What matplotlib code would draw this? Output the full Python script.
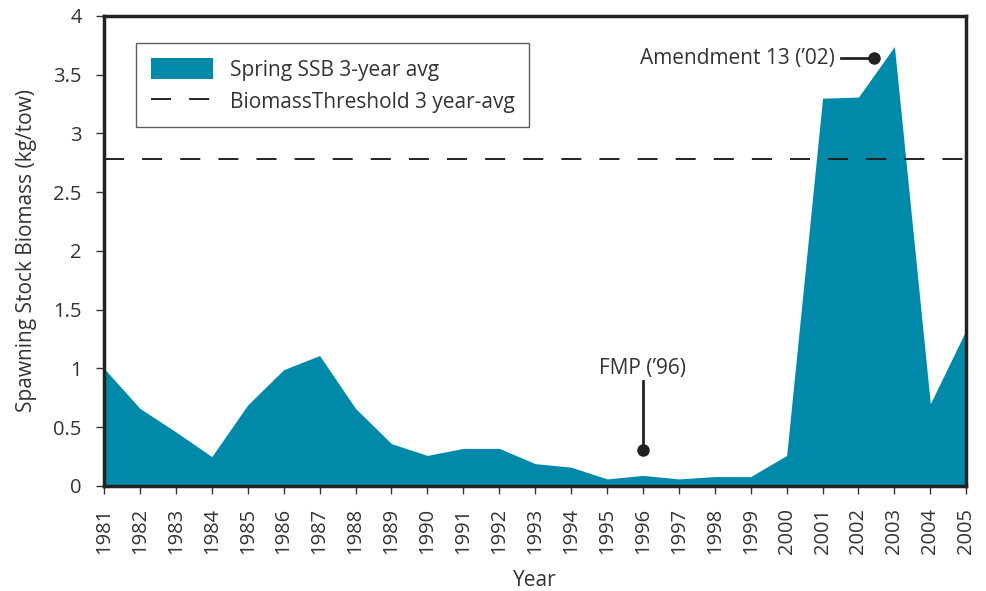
import numpy as np
import matplotlib.pyplot as plt
from matplotlib.patches import Patch
from matplotlib.lines import Line2D

years = list(range(1981, 2006))
ssb = [1.00, 0.66, 0.46, 0.25, 0.69, 0.99, 1.11, 0.66, 0.36, 0.26,
       0.32, 0.32, 0.19, 0.16, 0.06, 0.09, 0.06, 0.08, 0.08, 0.26,
       3.30, 3.31, 3.74, 0.70, 1.33]
threshold = 2.78
yticks = [0, 0.5, 1, 1.5, 2, 2.5, 3, 3.5, 4]
ytick_labels = ['0', '0.5', '1', '1.5', '2', '2.5', '3', '3.5', '4']

plt.rcParams['font.family'] = ['Open Sans', 'DejaVu Sans']
teal = '#0089a8'
txt = '#333333'
fs = 15
dash = (10.3, 9.3)

fig = plt.figure(figsize=(9.86, 5.91), dpi=100)
ax = fig.add_axes([0.1055, 0.1777, 0.8745, 0.7953])

ax.fill_between(years, ssb, 0, color=teal, lw=0)
ax.axhline(threshold, color='#222222', lw=1.4, dashes=dash)

ax.set_xlim(1981, 2005)
ax.set_ylim(0, 4)
ax.set_xticks(years)
ax.set_xticklabels([str(y) for y in years], rotation=90, fontsize=14.5, color=txt)
ax.set_yticks(yticks)
ax.set_yticklabels(ytick_labels, fontsize=14.5, color=txt)
ax.tick_params(axis='both', direction='out', length=6, width=1, color='#333333', pad=10)
for s in ax.spines.values():
    s.set_linewidth(2.5)
    s.set_color('#222222')
ax.set_xlabel('Year', fontsize=fs, color=txt, labelpad=11)
ax.set_ylabel('Spawning Stock Biomass (kg/tow)', fontsize=fs, color=txt, labelpad=12)

# annotations
ax.plot([2001.5, 2002.42], [3.64, 3.64], color='#222222', lw=2)
ax.plot([2002.42], [3.64], 'o', color='#222222', ms=8)
ax.text(2001.33, 3.64, "Amendment 13 (\u201902)", ha='right', va='center',
        fontsize=fs, color=txt)
ax.plot([1996, 1996], [0.31, 0.89], color='#222222', lw=2)
ax.plot([1996], [0.31], 'o', color='#222222', ms=8)
ax.text(1996, 1.0, "FMP (\u201996)", ha='center', va='center', fontsize=fs, color=txt)

handles = [Patch(facecolor=teal, edgecolor='none'),
           Line2D([], [], color='#222222', lw=1.4, dashes=dash)]
leg = ax.legend(handles, ['Spring SSB 3-year avg', 'BiomassThreshold 3 year-avg'],
                loc='upper left', bbox_to_anchor=(0.037, 0.942), fontsize=fs,
                frameon=True, fancybox=False, handlelength=3.0, handleheight=1.2,
                borderpad=0.7, labelspacing=0.45, handletextpad=0.8,
                borderaxespad=0)
leg.get_frame().set_edgecolor('#333333')
leg.get_frame().set_linewidth(1)
for t in leg.get_texts():
    t.set_color(txt)

fig.savefig('out.png', dpi=100)
